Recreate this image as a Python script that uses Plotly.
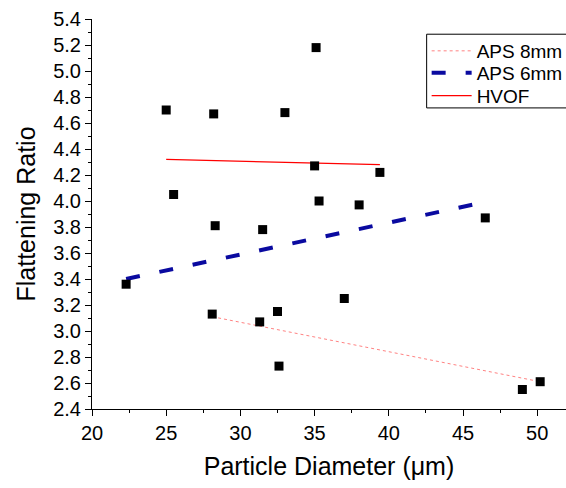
import plotly.graph_objects as go

# Measured flattening ratios vs. particle diameter (um)
diameter = [25.0, 28.2, 33.0, 35.1, 35.0, 39.4, 25.5, 35.3, 38.0, 28.3,
            31.5, 46.5, 22.3, 37.0, 28.1, 31.3, 32.5, 32.6, 49.0, 50.2]
flattening = [4.70, 4.67, 4.68, 5.18, 4.27, 4.22, 4.05, 4.00, 3.97, 3.81,
              3.78, 3.87, 3.36, 3.25, 3.13, 3.07, 3.15, 2.73, 2.55, 2.61]

# Linear trend lines (end points) for each spraying process
aps8_x = [28.1, 50.2]
aps8_y = [3.11, 2.61]
aps6_x = [22.3, 46.4]
aps6_y = [3.40, 3.99]
hvof_x = [25.0, 39.4]
hvof_y = [4.32, 4.28]

FONT = "Arial, Liberation Sans, sans-serif"

fig = go.Figure()

fig.add_trace(go.Scatter(
    x=aps8_x, y=aps8_y, mode="lines", name="APS 8mm", legend="legend",
    line=dict(color="rgb(255,130,130)", width=1, dash="dot"),
))
fig.add_trace(go.Scatter(
    x=aps6_x, y=aps6_y, mode="lines", name="APS 6mm", legend="legend2",
    line=dict(color="#0A0AA0", width=4, dash="14px,20px"),
))
fig.add_trace(go.Scatter(
    x=hvof_x, y=hvof_y, mode="lines", name="HVOF", legend="legend3",
    line=dict(color="#FF0000", width=1.3),
))
fig.add_trace(go.Scatter(
    x=diameter, y=flattening, mode="markers", showlegend=False,
    marker=dict(symbol="square", size=9, color="black"),
))

axis_common = dict(
    showline=True, linecolor="black", linewidth=1,
    ticks="outside", ticklen=6, tickwidth=1, tickcolor="black",
    showgrid=False, zeroline=False, mirror=False,
    tickfont=dict(family=FONT, size=20, color="black"),
)

fig.update_xaxes(
    range=[20, 51.94], dtick=5, tick0=20,
    minor=dict(ticks="outside", ticklen=3, dtick=2.5, tick0=20, tickcolor="black"),
    title=dict(text="Particle Diameter (μm)", font=dict(family=FONT, size=25, color="black"),
               standoff=14),
    **axis_common,
)
fig.update_yaxes(
    range=[2.4, 5.4], dtick=0.2, tick0=2.4, tickformat=".1f",
    minor=dict(ticks="outside", ticklen=3, dtick=0.1, tick0=2.4, tickcolor="black"),
    title=dict(text="Flattening Ratio", font=dict(family=FONT, size=25, color="black"),
               standoff=10),
    **axis_common,
)

# One legend per entry so the rows sit tightly inside a shared frame
legend_style = dict(
    x=0.706, xanchor="left", yanchor="middle",
    bgcolor="rgba(0,0,0,0)", borderwidth=0,
    font=dict(family=FONT, size=19, color="black"),
    itemwidth=40,
)

fig.update_layout(
    width=566, height=488,
    margin=dict(l=92, r=0, t=19, b=79, autoexpand=False),
    plot_bgcolor="white", paper_bgcolor="white",
    font=dict(family=FONT, color="black"),
    legend=dict(y=0.918, **legend_style),
    legend2=dict(y=0.862, **legend_style),
    legend3=dict(y=0.803, **legend_style),
    shapes=[dict(
        type="rect", xref="paper", yref="paper",
        x0=0.706, x1=1.05, y0=0.772, y1=0.961,
        line=dict(color="black", width=1), fillcolor="white", layer="above",
    )],
)

fig.write_html("out.html")
